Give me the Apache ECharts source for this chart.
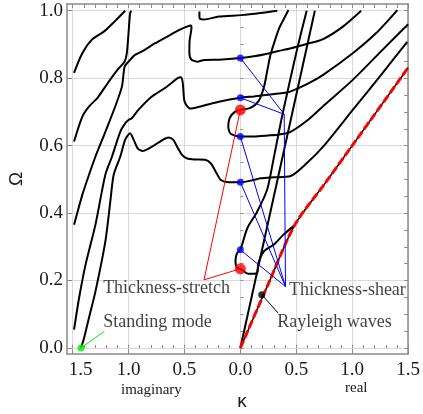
<!DOCTYPE html>
<html><head><meta charset="utf-8">
<script src="https://cdn.jsdelivr.net/npm/echarts@6/dist/echarts.min.js"></script>
<style>html,body{margin:0;padding:0;background:#fff}#c{width:423px;height:414px}</style>
</head><body><div id="c"></div>
<script>
// ---- axis ticks ----
const xTicks = [-1.5, -1, -0.5, 0, 0.5, 1, 1.5];
const yTicks = [0, 0.2, 0.4, 0.6, 0.8, 1.0];

// ---- dispersion branches [kappa, Omega]; negative kappa = imaginary ----
const branchA = [[-1.487,0.816],[-1.413,0.874],[-1.325,0.915],[-1.221,0.938],[-1.119,0.970],[-1.030,1.000]];
const branchB = [[-1.487,0.612],[-1.413,0.686],[-1.354,0.716],[-1.281,0.740],[-1.207,0.775],[-1.148,0.803],[-1.088,0.829],[-1.035,0.849],[-1.015,0.874],[-1.000,0.933],[-0.986,0.992],[-0.975,1.000]];
const branchC = [[-1.487,0.365],[-1.413,0.454],[-1.354,0.513],[-1.296,0.567],[-1.207,0.641],[-1.119,0.716],[-1.059,0.775],[-1.035,0.834],[-1.000,0.849],[-0.942,0.869],[-0.882,0.879],[-0.765,0.903],[-0.646,0.925],[-0.546,0.943],[-0.442,0.956],[-0.437,0.950],[-0.453,0.913],[-0.456,0.878],[-0.440,0.856],[-0.387,0.849],[-0.322,0.854],[-0.192,0.855],[0,0.860],[0.120,0.865],[0.230,0.872],[0.330,0.880],[0.445,0.888],[0.600,0.902],[0.740,0.916],[0.917,0.953],[1.080,1.000]];
const branchD = [[-0.366,0.998],[-0.365,0.978],[-0.325,0.974],[-0.192,0.983],[0.012,0.987],[0.180,0.993],[0.330,1.000]];
const branchE = [[-1.487,0.054],[-1.442,0.148],[-1.384,0.247],[-1.296,0.365],[-1.207,0.514],[-1.148,0.567],[-1.074,0.641],[-1.030,0.666],[-1.000,0.676],[-0.971,0.681],[-0.912,0.706],[-0.794,0.745],[-0.664,0.773],[-0.561,0.800],[-0.531,0.803],[-0.515,0.786],[-0.502,0.735],[-0.484,0.721],[-0.449,0.710],[-0.369,0.715],[-0.192,0.730],[0,0.742],[0.120,0.746],[0.250,0.751],[0.380,0.756],[0.445,0.760],[0.600,0.783],[0.740,0.810],[1.005,0.874],[1.212,0.933],[1.404,1.002]];
const branchF = [[-1.425,0],[-1.398,0.029],[-1.354,0.089],[-1.296,0.167],[-1.207,0.316],[-1.161,0.439],[-1.133,0.513],[-1.074,0.567],[-1.030,0.617],[-0.986,0.637],[-0.953,0.617],[-0.918,0.592],[-0.873,0.584],[-0.794,0.596],[-0.705,0.615],[-0.643,0.624],[-0.599,0.617],[-0.564,0.596],[-0.520,0.572],[-0.475,0.562],[-0.404,0.559],[-0.316,0.558],[-0.263,0.547],[-0.219,0.522],[-0.174,0.498],[-0.104,0.4916],[0,0.4916],[0.106,0.497],[0.180,0.503],[0.300,0.506],[0.445,0.509],[0.600,0.550],[0.740,0.597],[1.005,0.706],[1.271,0.815],[1.492,0.908]];
const branchUpperLoop = [[0.430,1.002],[0.383,0.972],[0.348,0.949],[0.310,0.913],[0.270,0.870],[0.245,0.830],[0.212,0.775],[0.165,0.733],[0.090,0.712],[0,0.706],[-0.050,0.700],[-0.095,0.682],[-0.108,0.656],[-0.087,0.635],[0,0.627],[0.120,0.627],[0.250,0.630],[0.350,0.633],[0.445,0.640],[0.600,0.675],[0.740,0.717],[1.005,0.795],[1.271,0.884],[1.500,0.960]];
const branchShear = [[0.593,1.0],[0.516,0.898],[0.445,0.795],[0.366,0.676],[0.295,0.557],[0.239,0.469],[0.150,0.404],[0.062,0.355],[0,0.291],[-0.030,0.281],[-0.044,0.256],[-0.030,0.238],[0,0.2347],[0.073,0.220],[0.150,0.222],[0.160,0.250],[0.209,0.286],[0.297,0.306],[0.386,0.336],[0.489,0.365]];
const branchOrigin = [[0,0],[0.666,1.0]];
const rayleigh = [[0,0],[0.250,0.190],[0.487,0.365],[0.750,0.485],[1.0,0.600],[1.5,0.831]];

// ---- marked cutoff points ----
const redDots = [[0,0.706],[0,0.2347]];
const blueDots = [[0,0.860],[0,0.742],[0,0.627],[0,0.4916],[0,0.291]];
const greenDot = [[-1.425,0]];
const blackDot = [[0.191,0.158]];

// ---- annotation leaders ----
const stretchLeader = [[0,0.706],[-0.325,0.202],[0,0.2347]];
const shearLeaderTop = [[0,0.860],[0.392,0.693],[0,0.742]];
const shearLeaders = [[[0.392,0.693],[0.4035,0.182]],[[0,0.627],[0.4035,0.182]],[[0,0.4916],[0.4035,0.182]],[[0,0.291],[0.4035,0.182]]];
const standingLeader = [[-1.425,0],[-1.216,0.049]];
const rayleighLeader = [[0.191,0.158],[0.339,0.103]];
const annotations = [
  {name:'Thickness-stretch', value:[-1.227,0.176]},
  {name:'Standing mode', value:[-1.227,0.075]},
  {name:'Thickness-shear', value:[0.434,0.172]},
  {name:'Rayleigh waves', value:[0.330,0.076]}
];

const chart = echarts.init(document.getElementById('c'), null, {renderer:'canvas'});
const serif = '"Liberation Serif","Times New Roman",serif';
const sans = '"Liberation Sans","DejaVu Sans",sans-serif';
const XMIN=-1.55, XMAX=1.5, YMIN=-0.018, YMAX=1.02;
const minorX=[]; for(let i=-15;i<=15;i++) minorX.push(i/10);
const minorY=[]; for(let i=0;i<=20;i++) minorY.push(i/20);
const axisCol='#8a8a8a';

function blackLine(d,sm){return {type:'line',data:d,showSymbol:false,symbol:'none',smooth:sm===undefined?0.25:sm,lineStyle:{color:'#000',width:2},z:3,silent:true};}
function thinLine(d,c,z){return {type:'line',data:d,showSymbol:false,symbol:'none',lineStyle:{color:c,width:1},z:z||4,silent:true};}

const series = [
  blackLine(branchA), blackLine(branchB), blackLine(branchC), blackLine(branchD),
  blackLine(branchE), blackLine(branchF), blackLine(branchUpperLoop), blackLine(branchShear), blackLine(branchOrigin,0),
  {type:'line',data:rayleigh,showSymbol:false,symbol:'none',smooth:0.3,lineStyle:{color:'#000',width:1.5},z:4,silent:true},
  {type:'line',data:rayleigh,showSymbol:false,symbol:'none',smooth:0.3,lineStyle:{color:'#ff0000',width:3,type:[8,3]},z:5,silent:true},
  thinLine(stretchLeader,'#ff0000',6),
  thinLine(shearLeaderTop,'#0000ff',6),
  ...shearLeaders.map(s=>thinLine(s,'#0000ff',6)),
  thinLine(standingLeader,'#00ee00',6),
  thinLine(rayleighLeader,'#000',6),
  {type:'scatter',data:redDots,symbolSize:11,itemStyle:{color:'#ff0000'},z:8,silent:true},
  {type:'scatter',data:blueDots,symbolSize:7,itemStyle:{color:'#0000ff'},z:8,silent:true},
  {type:'scatter',data:greenDot,symbolSize:7,itemStyle:{color:'#00ee00'},z:8,silent:true},
  {type:'scatter',data:blackDot,symbolSize:7,itemStyle:{color:'#000'},z:8,silent:true},
  {type:'scatter',data:annotations,symbolSize:0,z:9,silent:true,
   label:{show:true,position:'right',distance:0,formatter:p=>p.name,fontFamily:serif,fontSize:18,color:'#111'}}
];

chart.setOption({
  animation:false,
  backgroundColor:'#fff',
  grid:{left:67,right:11,top:4,bottom:60,containLabel:false},
  xAxis:[
    {type:'value',min:XMIN,max:XMAX,position:'bottom',
     axisLine:{show:true,onZero:false,lineStyle:{color:axisCol,width:1.5}},
     axisTick:{show:true,inside:true,length:5,customValues:xTicks,lineStyle:{color:axisCol,width:1}},
     axisLabel:{show:true,customValues:xTicks,margin:7,fontFamily:serif,fontSize:19,color:'#1a1a1a',
       formatter:v=>{const s=Math.abs(v).toFixed(1); return v<-1.4?'{l|'+s+'}':s;},
       rich:{l:{fontFamily:serif,fontSize:19,color:'#1a1a1a',padding:[0,0,0,16]}}},
     splitLine:{show:true,lineStyle:{color:'#d9d9d9',width:1}}},
    {type:'value',min:XMIN,max:XMAX,position:'bottom',
     axisLine:{show:false},axisLabel:{show:false},splitLine:{show:false},
     axisTick:{show:true,inside:true,length:3,customValues:minorX,lineStyle:{color:axisCol,width:1}}},
    {type:'value',min:XMIN,max:XMAX,position:'top',
     axisLine:{show:true,onZero:false,lineStyle:{color:axisCol,width:1.5}},axisLabel:{show:false},splitLine:{show:false},
     axisTick:{show:true,inside:true,length:4,customValues:minorX,lineStyle:{color:axisCol,width:1}}}
  ],
  yAxis:[
    {type:'value',min:YMIN,max:YMAX,position:'left',
     axisLine:{show:true,onZero:false,lineStyle:{color:axisCol,width:1.5}},
     axisTick:{show:true,inside:true,length:5,customValues:yTicks,lineStyle:{color:axisCol,width:1}},
     axisLabel:{show:true,customValues:yTicks,margin:4,fontFamily:serif,fontSize:19,color:'#1a1a1a',formatter:v=>v.toFixed(1)},
     splitLine:{show:true,lineStyle:{color:'#d9d9d9',width:1}}},
    {type:'value',min:YMIN,max:YMAX,position:'left',
     axisLine:{show:false},axisLabel:{show:false},splitLine:{show:false},
     axisTick:{show:true,inside:true,length:3,customValues:minorY,lineStyle:{color:axisCol,width:1}}},
    {type:'value',min:YMIN,max:YMAX,position:'right',
     axisLine:{show:true,onZero:false,lineStyle:{color:axisCol,width:1.5}},axisLabel:{show:false},splitLine:{show:false},
     axisTick:{show:true,inside:true,length:4,customValues:minorY,lineStyle:{color:axisCol,width:1}}}
  ],
  graphic:[
    {type:'text',left:121,top:383,style:{text:'imaginary',font:'15px '+serif,fill:'#1a1a1a'}},
    {type:'text',left:345,top:381,style:{text:'real',font:'15px '+serif,fill:'#1a1a1a'}},
    {type:'text',x:242,y:402,style:{text:'κ',font:'19px '+sans,fill:'#1a1a1a',align:'center',verticalAlign:'middle'}},
    {type:'text',x:17,y:179,rotation:Math.PI/2,style:{text:'Ω',font:'19px '+sans,fill:'#1a1a1a',align:'center',verticalAlign:'middle'}}
  ],
  series:series
});
</script></body></html>
